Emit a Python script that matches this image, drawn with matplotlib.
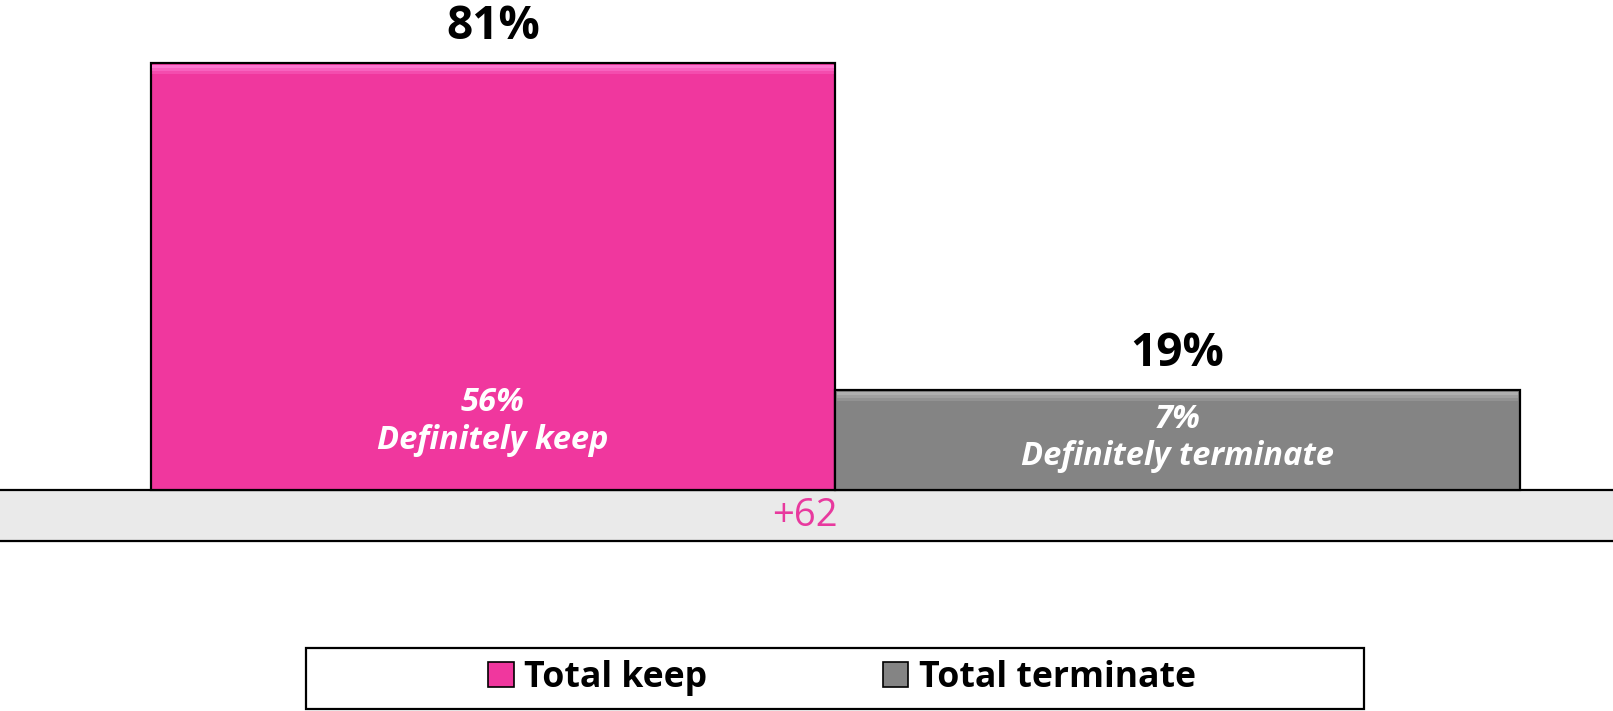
import matplotlib
matplotlib.use("Agg")
import matplotlib.pyplot as plt
from matplotlib.patches import Patch, Rectangle

# data
categories = ["Total keep", "Total terminate"]
totals = [81, 19]
definitely = [56, 7]
inner_names = ["Definitely keep", "Definitely terminate"]
net_label = "+62"

colors = ["#F0379E", "#848484"]
bevel = ["#FF7FD6", "#B4B4B4"]
font = "Open Sans"

W, H = 1613, 711
PX = 5.272          # pixels per percentage point
BASE = 490          # pixel row of the baseline
fig = plt.figure(figsize=(W / 100, H / 100), dpi=100)
ax = fig.add_axes([0, 0, 1, 1])
ax.set_xlim(-0.7202, 1.6362)
ax.set_ylim(-(H - BASE) / PX, BASE / PX)
ax.axis("off")

# floor band
floor = 51 / PX
ax.axhspan(-floor, 0, color="#EAEAEA", zorder=1)
ax.axhline(0, color="black", lw=1.6, zorder=2)
ax.axhline(-floor, color="black", lw=1.6, zorder=2)

x = list(range(len(categories)))
ax.bar(x, totals, width=1.0, color=colors, edgecolor="black", lw=1.6, zorder=3)
# top bevel highlight, fading downwards
bev = 3 / PX
for i, t in enumerate(totals):
    for k, a in enumerate([0.9, 0.6, 0.3]):
        ax.bar(i, bev, bottom=t - 0.35 - bev * (k + 1), width=0.995, color=bevel[i],
               lw=0, zorder=4, alpha=a)

for i, t in enumerate(totals):
    ax.text(i, t + 4.5, f"{t}%", ha="center", va="baseline", fontsize=33,
            fontweight="bold", family=font, color="black", zorder=5)

inner_y = [13.0, 9.9]
for i, d in enumerate(definitely):
    ax.text(i, inner_y[i], f"{d}%\n{inner_names[i]}", ha="center", va="center",
            fontsize=23.5, fontweight="bold", style="italic", family=font,
            color="white", linespacing=1.17, zorder=5)

ax.text(0.456, -floor / 2, net_label, ha="center", va="center", fontsize=27.5,
        family=font, color="#E8399E", zorder=5)

# legend
handles = [Patch(facecolor=c, edgecolor="black", lw=1.2) for c in colors]
fig.legend(handles, categories, loc="center", bbox_to_anchor=(842 / W, 33 / H),
           ncol=2, frameon=False, prop={"family": font, "weight": "bold", "size": 25.7},
           handlelength=0.72, handleheight=0.72, handletextpad=0.29,
           columnspacing=4.9)
fig.patches.append(Rectangle((306 / W, 2 / H), 1058 / W, 61 / H, transform=fig.transFigure,
                             fill=False, ec="black", lw=1.6))

fig.savefig("out.png", dpi=100)
